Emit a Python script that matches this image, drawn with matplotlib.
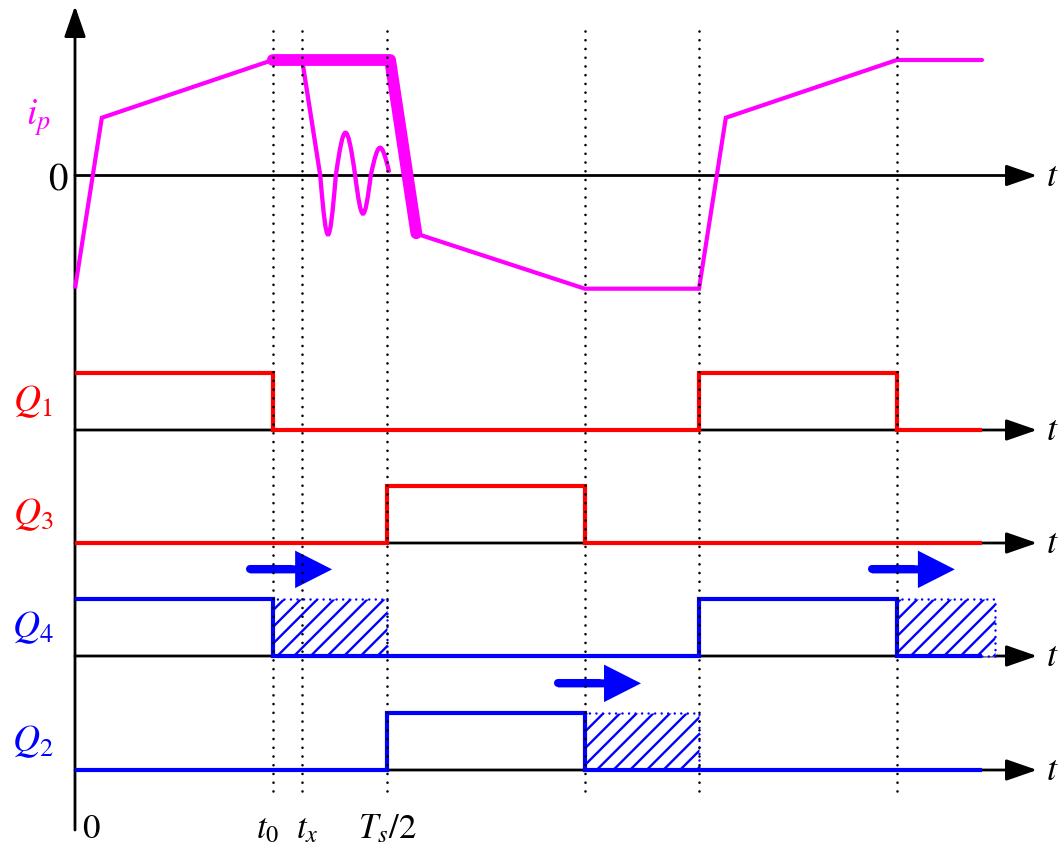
import matplotlib
matplotlib.use('Agg')
import matplotlib.pyplot as plt
from matplotlib.path import Path
from matplotlib.patches import PathPatch, Rectangle, ArrowStyle

plt.rcParams['mathtext.fontset'] = 'stix'
plt.rcParams['font.family'] = ['STIXGeneral', 'DejaVu Serif']
plt.rcParams['hatch.linewidth'] = 1.7

# ---------------- data (time in units of Ts, current normalised to its peak) ----------------
T0, TX, HALF_TS = 0.317, 0.364, 0.5
marker_times = [0.317, 0.364, 0.5, 0.817, 1.0, 1.317]
t_end = 1.4535
t_axis_end = 1.5417

ip_rise_t = [0.0, 0.043, 0.317, 0.364]
ip_rise_v = [-0.98, 0.50, 1.00, 1.00]
ip_thick_t = [0.317, 0.505, 0.547]
ip_thick_v = [1.00, 1.00, -0.50]
ip_fall_t = [0.545, 0.817, 1.0, 1.043, 1.317, 1.4535]
ip_fall_v = [-0.50, -0.98, -0.98, 0.50, 1.00, 1.00]
ring_zero_t = [0.393, 0.418, 0.449, 0.474, 0.503]
ring_peak_v = [-0.51, 0.37, -0.33, 0.24]
ring_end_v = 0.04

q1_t = [0.0, 0.317, 1.0, 1.317, 1.4535]
q1_v = [1, 0, 1, 0, 0]
q3_t = [0.0, 0.5, 0.817, 1.4535]
q3_v = [0, 1, 0, 0]
q4_t = [0.0, 0.317, 1.0, 1.317, 1.4535]
q4_v = [1, 0, 1, 0, 0]
q2_t = [0.0, 0.5, 0.817, 1.4535]
q2_v = [0, 1, 0, 0]

q4_hatch = [(0.317, 0.5), (1.317, 1.474)]
q2_hatch = [(0.817, 1.0)]
q4_arrows = [(0.280, 0.412), (1.277, 1.410)]
q2_arrows = [(0.774, 0.907)]
arrow_level = 1.52

signal_labels = ['$Q_1$', '$Q_3$', '$Q_4$', '$Q_2$']
bottom_labels = ['$0$', '$t_0$', '$t_x$', '$T_s/2$']
bottom_label_t = [0.026, 0.309, 0.372, 0.5]

MAGENTA, RED, BLUE = '#ff00ff', '#ff0000', '#0000ff'

# ---------------- layout (pixels of a 1060x848 canvas) ----------------
W, H = 1060, 848
X0_PX, TS_PX = 75, 624
XLIM = (-X0_PX / TS_PX, (W - X0_PX) / TS_PX)
IP_ZERO_PX, IP_UNIT_PX = 175.5, 115.5
Q_BASE_PX = [430, 543, 656, 770]
Q_UNIT_PX = 57

fig = plt.figure(figsize=(W / 100, H / 100), dpi=100)


def layer(zero_px=None, unit_px=None):
    ax = fig.add_axes([0, 0, 1, 1])
    ax.set_xlim(*XLIM)
    if zero_px is None:
        ax.set_ylim(H, 0)
    else:
        ax.set_ylim((zero_px - H) / unit_px, zero_px / unit_px)
    ax.axis('off')
    ax.patch.set_alpha(0)
    return ax


def axis_arrow(ax, start, end, lw=2.0):
    ax.annotate('', xy=end, xytext=start,
                arrowprops=dict(arrowstyle=ArrowStyle('-|>', head_length=19, head_width=6.6),
                                mutation_scale=1, lw=lw, color='black',
                                shrinkA=0, shrinkB=0), zorder=1)


# background: vertical axis
ax_bg = layer()
axis_arrow(ax_bg, (0, 830), (0, 6))

# ---------------- ip panel ----------------
ax_ip = layer(IP_ZERO_PX, IP_UNIT_PX)
axis_arrow(ax_ip, (0, 0), (t_axis_end, 0))
ax_ip.plot(ip_rise_t, ip_rise_v, color=MAGENTA, lw=3, solid_joinstyle='miter', solid_capstyle='butt', zorder=3)
ax_ip.plot(ip_fall_t, ip_fall_v, color=MAGENTA, lw=3, solid_joinstyle='miter', solid_capstyle='round', zorder=3)
ax_ip.plot(ip_thick_t, ip_thick_v, color=MAGENTA, lw=8.5, solid_joinstyle='round', solid_capstyle='round', zorder=3)

verts = [(TX, 1.0), (ring_zero_t[0], 0.0)]
codes = [Path.MOVETO, Path.LINETO]
for i, pk in enumerate(ring_peak_v):
    a, b = ring_zero_t[i], ring_zero_t[i + 1]
    w = b - a
    end_v = 0.0 if i < len(ring_peak_v) - 1 else ring_end_v
    h = (pk - 0.125 * end_v) / 0.75
    verts += [(a + 0.42 * w, h), (b - 0.42 * w, h), (b, end_v)]
    codes += [Path.CURVE4] * 3
ax_ip.add_patch(PathPatch(Path(verts, codes), facecolor='none', edgecolor=MAGENTA,
                          lw=3.1, capstyle='round', zorder=3))

# ---------------- switch signal panels ----------------
signals = [(q1_t, q1_v, RED, [], []),
           (q3_t, q3_v, RED, [], []),
           (q4_t, q4_v, BLUE, q4_hatch, q4_arrows),
           (q2_t, q2_v, BLUE, q2_hatch, q2_arrows)]

for (ts, vs, col, hatches, arrows), base in zip(signals, Q_BASE_PX):
    ax = layer(base, Q_UNIT_PX)
    axis_arrow(ax, (0, 0), (t_axis_end, 0))
    for (a, b) in hatches:
        r = Rectangle((a, 0), b - a, 1, facecolor='white', edgecolor=col, hatch='//',
                      lw=1.8, linestyle=(0, (0.01, 2.6)), zorder=2)
        r.set_capstyle('round')
        ax.add_patch(r)
    ax.plot(ts, vs, drawstyle='steps-post', color=col, lw=3.0,
            solid_joinstyle='miter', solid_capstyle='butt', zorder=3)
    for (a, b) in arrows:
        ax.plot([a, (a + b) / 2], [arrow_level, arrow_level], color=BLUE, lw=5.8,
                solid_capstyle='round', zorder=4)
        ax.annotate('', xy=(b, arrow_level), xytext=(a, arrow_level),
                    arrowprops=dict(arrowstyle=ArrowStyle('simple', head_length=26.6,
                                                          head_width=27, tail_width=5.8),
                                    mutation_scale=1, color=BLUE, lw=0,
                                    shrinkA=0, shrinkB=0), zorder=4)

# ---------------- top layer: dotted markers and text ----------------
ax_top = layer()
for tm in marker_times:
    ax_top.plot([tm, tm], [31, 795], color='black', lw=1.9,
                linestyle=(0, (0.01, 3.3)), dash_capstyle='round', zorder=5)


def px_t(xpx):
    return (xpx - X0_PX) / TS_PX


ax_top.text(px_t(38), 125, '$i_p$', color=MAGENTA, fontsize=27, ha='center', va='baseline')
ax_top.text(px_t(58), 190, '$0$', color='black', fontsize=28, ha='center', va='baseline')
for lab, base in zip(signal_labels, Q_BASE_PX):
    col = RED if lab in ('$Q_1$', '$Q_3$') else BLUE
    ax_top.text(px_t(33), base - Q_UNIT_PX / 2 + 10, lab, color=col, fontsize=27,
                ha='center', va='baseline')
for base in [IP_ZERO_PX] + Q_BASE_PX:
    ax_top.text(px_t(1052), base + 10, '$t$', color='black', fontsize=26,
                ha='center', va='baseline')
for lab, tt in zip(bottom_labels, bottom_label_t):
    ax_top.text(tt, 838, lab, color='black', fontsize=25, ha='center', va='baseline')

fig.savefig('out.png', dpi=100)
